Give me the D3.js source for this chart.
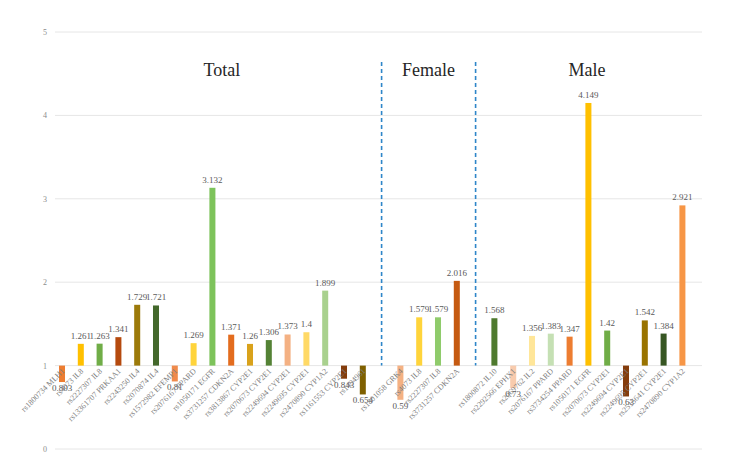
<!DOCTYPE html>
<html><head><meta charset="utf-8">
<script src="https://cdn.jsdelivr.net/npm/d3@7"></script>
<style>body{margin:0;background:#fff}svg{display:block}</style>
</head><body><svg id="c" width="732" height="455" font-family="'Liberation Serif','DejaVu Serif','Times New Roman',serif"></svg>
<script>
const totalLabels = ["rs1800734 MLH1","rs4073 IL8","rs2227307 IL8","rs13361707 PRKAA1","rs2243250 IL4","rs2070874 IL4","rs1572982 EFEMP1","rs2076167 PPARD","rs1050171 EGFR","rs3731257 CDKN2A","rs3813867 CYP2E1","rs2070673 CYP2E1","rs2249694 CYP2E1","rs2249695 CYP2E1","rs2470890 CYP1A2","rs1161553 CYP2E1","rs1494961"];
const totalValues = [0.803,1.261,1.263,1.341,1.729,1.721,0.81,1.269,3.132,1.371,1.26,1.306,1.373,1.4,1.899,0.843,0.654];
const totalColors = ["#ED7D31","#FFC000","#70AD47","#B54A0E","#9C7A0A","#43682B","#F08A4B","#FFD43B","#7DC35B","#E36C1E","#D9A21B","#548235","#F4B183","#FFD966","#A9D18E","#843C0C","#7F6000"];
const femaleLabels = ["rs1801058 GRK4","rs4073 IL8","rs2227307 IL8","rs3731257 CDKN2A"];
const femaleValues = [0.59,1.579,1.579,2.016];
const femaleColors = ["#F4B183","#FFD43B","#8FCB6B","#C55A11"];
const maleLabels = ["rs1800872 IL10","rs2292566 EPHX1","rs2069762 IL2","rs2076167 PPARD","rs3734254 PPARD","rs1050171 EGFR","rs2070673 CYP2E1","rs2249694 CYP2E1","rs2249695 CYP2E1","rs2515641 CYP2E1","rs2470890 CYP1A2"];
const maleValues = [1.568,0.73,1.356,1.383,1.347,4.149,1.42,0.63,1.542,1.384,2.921];
const maleColors = ["#4E7A2E","#F8CBAD","#FFE699","#C5E0B4","#ED7D31","#FFC000","#70AD47","#843C0C","#997300","#375623","#F79646"];
const yTicks = [0,1,2,3,4,5];
const groupTitles = ["Total","Female","Male"];

const rows = [];
const slots = [];
function addGroup(g, labels, values, colors){
  labels.forEach((l,i)=>{const key=g+"|"+i; slots.push(key); rows.push({key,label:l,value:values[i],color:colors[i],group:g});});
}
addGroup("Total",totalLabels,totalValues,totalColors); slots.push("gap1");
addGroup("Female",femaleLabels,femaleValues,femaleColors); slots.push("gap2");
addGroup("Male",maleLabels,maleValues,maleColors);

const svg = d3.select("#c");
const x = d3.scaleBand().domain(slots).range([52.6,691.8]).paddingInner(0.68).paddingOuter(0.34);
const y = d3.scaleLinear().domain([0,5]).range([449,32]);
const cx = k => x(k)+x.bandwidth()/2;

svg.append("g").selectAll("line").data(yTicks).join("line")
  .attr("x1",55).attr("x2",702).attr("y1",d=>y(d)).attr("y2",d=>y(d))
  .attr("stroke","#e6e6e6").attr("stroke-width",1);
svg.append("g").selectAll("text").data(yTicks).join("text")
  .attr("x",45).attr("y",d=>y(d)+3).attr("text-anchor","middle")
  .attr("font-size",8).attr("fill","#8c8c8c").text(d=>d);

svg.append("g").selectAll("rect").data(rows).join("rect")
  .attr("x",d=>x(d.key)).attr("width",x.bandwidth())
  .attr("y",d=>y(Math.max(1,d.value))).attr("height",d=>Math.abs(y(d.value)-y(1)))
  .attr("fill",d=>d.color);

svg.append("g").selectAll("text").data(rows).join("text")
  .attr("x",d=>cx(d.key)).attr("y",d=>d.value>=1? y(d.value)-5 : y(d.value)+9)
  .attr("text-anchor","middle").attr("font-size",9).attr("fill","#595959")
  .text(d=>d.value);

svg.append("g").selectAll("text").data(rows).join("text")
  .attr("transform",d=>`translate(${cx(d.key)+3},${y(1)+6}) rotate(-45)`)
  .attr("text-anchor","end").attr("font-size",8).attr("fill","#7f7f7f")
  .text(d=>d.label);

["gap1","gap2"].forEach(k=>{
  svg.append("line").attr("x1",cx(k)).attr("x2",cx(k)).attr("y1",62).attr("y2",y(1))
    .attr("stroke","#2E86C9").attr("stroke-width",1.6).attr("stroke-dasharray","4,3");
});

const titleX = {
  Total:(cx("Total|0")+cx("gap1"))/2,
  Female:(cx("gap1")+cx("gap2"))/2,
  Male:(cx("gap2")+cx("Male|10"))/2 + 8
};
svg.append("g").selectAll("text").data(groupTitles).join("text")
  .attr("x",d=>titleX[d]).attr("y",76).attr("text-anchor","middle")
  .attr("font-size",18).attr("fill","#262626").text(d=>d);
</script></body></html>
